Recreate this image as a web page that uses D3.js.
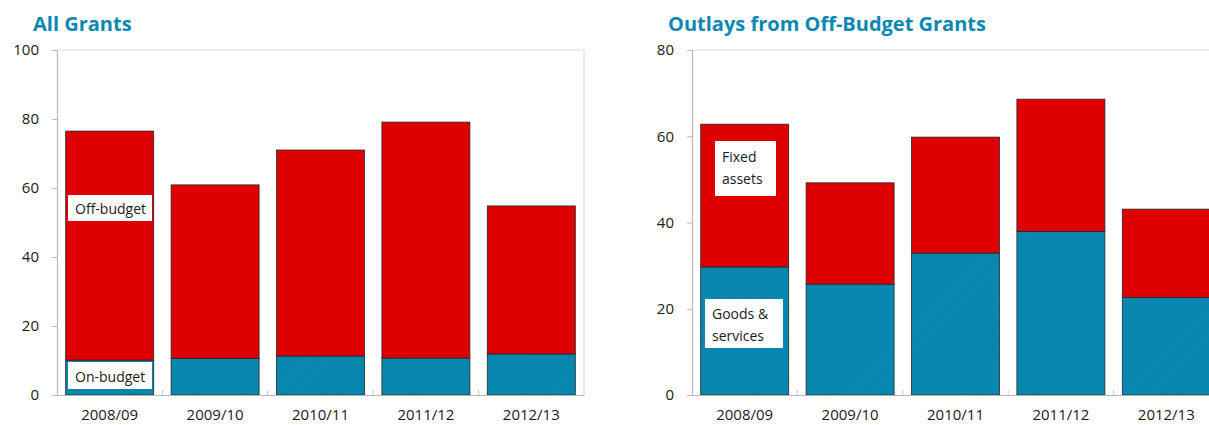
<!DOCTYPE html>
<html>
<head>
<meta charset="utf-8">
<script src="https://cdn.jsdelivr.net/npm/d3@7"></script>
<style>
  html, body { margin: 0; padding: 0; background: #fff; }
  svg { display: block; font-family: "Open Sans", "Noto Sans", sans-serif; }
</style>
</head>
<body>
<svg id="chart" width="1209" height="425"></svg>
<script>
// Fiscal years shared by both panels
const years = ["2008/09", "2009/10", "2010/11", "2011/12", "2012/13"];

// All Grants: on-budget and off-budget components
const onBudget  = [10.1, 10.6, 11.3, 10.7, 11.9];
const offBudget = [66.4, 50.3, 59.7, 68.4, 42.9];
const leftTicks = [0, 20, 40, 60, 80, 100];

// Outlays from off-budget grants: goods & services and fixed assets
const goodsServices = [29.7, 25.7, 32.9, 37.9, 22.6];
const fixedAssets   = [33.1, 23.5, 26.9, 30.7, 20.5];
const rightTicks = [0, 20, 40, 60, 80];

const RED = "#de0000";
const BLUE = "#0788b1";
const TITLE = "#0b87b4";

const svg = d3.select("#chart");

// faint diagonal hatching on the blue segments
const defs = svg.append("defs");
const pat = defs.append("pattern")
  .attr("id", "blueHatch")
  .attr("patternUnits", "userSpaceOnUse")
  .attr("width", 6).attr("height", 6)
  .attr("patternTransform", "rotate(45)");
pat.append("rect").attr("width", 6).attr("height", 6).attr("fill", BLUE);
pat.append("rect").attr("width", 2).attr("height", 6).attr("fill", "#0984ab");

function panel(opts) {
  const g = svg.append("g");
  const x = d3.scaleBand()
    .domain(years)
    .range([opts.left, opts.left + 527])
    .paddingInner(0.165)
    .paddingOuter(0.0825);
  const y = d3.scaleLinear()
    .domain([0, opts.max])
    .range([395, 50]);

  // title
  g.append("text")
    .attr("x", opts.titleX).attr("y", 31)
    .attr("fill", TITLE)
    .attr("font-size", 20).attr("font-weight", 700)
    .text(opts.title);

  // frame: top and right borders
  g.append("path")
    .attr("d", `M${x.range()[0]},${y(opts.max)}H${x.range()[1]}V${y(0)}`)
    .attr("fill", "none").attr("stroke", "#dcdcdc").attr("stroke-width", 1.2);

  // stacked bars
  const stack = d3.stack().keys([0, 1])(years.map((yr, i) => [opts.lower[i], opts.upper[i]]));
  const fills = ["url(#blueHatch)", RED];
  stack.forEach((layer, k) => {
    g.append("g").selectAll("rect")
      .data(layer)
      .join("rect")
      .attr("x", (d, i) => x(years[i]))
      .attr("width", x.bandwidth())
      .attr("y", d => y(d[1]))
      .attr("height", d => y(d[0]) - y(d[1]))
      .attr("fill", fills[k])
      .attr("stroke", "#262626").attr("stroke-width", 0.8);
  });

  // y axis
  const ya = g.append("g")
    .attr("transform", `translate(${x.range()[0]},0)`)
    .call(d3.axisLeft(y).tickValues(opts.ticks).tickSize(5).tickPadding(13));
  ya.select(".domain").attr("stroke", "#b8b8b8").attr("stroke-width", 1.2);
  ya.selectAll(".tick line").attr("stroke", "#b8b8b8");
  ya.selectAll(".tick text").attr("font-size", 15).attr("fill", "#1a1a1a")
    .attr("font-family", "'Open Sans', sans-serif");

  // x axis
  const xa = g.append("g")
    .attr("transform", `translate(0,${y(0)})`)
    .call(d3.axisBottom(x).tickSize(0).tickPadding(14));
  xa.select(".domain").attr("stroke", "#b8b8b8").attr("stroke-width", 1.2);
  xa.selectAll(".tick text").attr("font-size", 15).attr("fill", "#1a1a1a")
    .attr("font-family", "'Open Sans', sans-serif");
  // small separators between categories
  g.append("g").selectAll("line")
    .data(years.slice(1))
    .join("line")
    .attr("x1", d => x(d) - x.step() * x.paddingInner() / 2)
    .attr("x2", d => x(d) - x.step() * x.paddingInner() / 2)
    .attr("y1", y(0)).attr("y2", y(0) - 5)
    .attr("stroke", "#c8c8c8");

  // in-bar labels
  opts.labels.forEach(l => {
    const lg = g.append("g");
    lg.append("rect")
      .attr("x", l.x).attr("y", l.y).attr("width", l.w).attr("height", l.h)
      .attr("fill", "#fff");
    l.lines.forEach((t, i) => {
      lg.append("text")
        .attr("x", l.x + l.tx).attr("y", l.y + l.ty + i * 22)
        .attr("font-size", 14).attr("fill", "#1a1a1a")
        .text(t);
    });
  });
}

panel({
  title: "All Grants", titleX: 33, left: 57, max: 100, ticks: leftTicks,
  lower: onBudget, upper: offBudget,
  labels: [
    { x: 68, y: 195, w: 84, h: 26, tx: 7, ty: 19, lines: ["Off-budget"] },
    { x: 68, y: 362, w: 84, h: 27, tx: 7, ty: 20, lines: ["On-budget"] }
  ]
});

panel({
  title: "Outlays from Off-Budget Grants", titleX: 668, left: 692, max: 80, ticks: rightTicks,
  lower: goodsServices, upper: fixedAssets,
  labels: [
    { x: 715, y: 141, w: 61, h: 55, tx: 7, ty: 21, lines: ["Fixed", "assets"] },
    { x: 705, y: 299, w: 78, h: 49, tx: 7, ty: 20, lines: ["Goods &", "services"] }
  ]
});
</script>
</body>
</html>
